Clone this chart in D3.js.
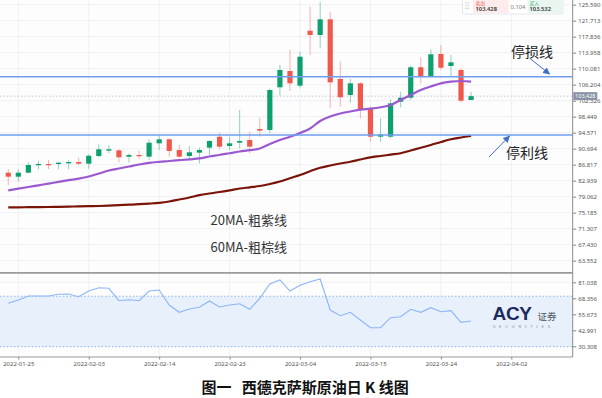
<!DOCTYPE html>
<html><head><meta charset="utf-8">
<script src="https://cdn.jsdelivr.net/npm/d3@7"></script>
<style>
body{margin:0;background:#fff;}
svg{display:block;font-family:"Noto Sans","Noto Sans CJK SC",sans-serif;}
</style>
</head><body>
<svg id="c" width="602" height="398"></svg>
<script>
// ---------------- DATA ----------------
const dates = ["2022-01-24","2022-01-25","2022-01-26","2022-01-27","2022-01-28","2022-01-31",
 "2022-02-01","2022-02-02","2022-02-03","2022-02-04","2022-02-07","2022-02-08","2022-02-09","2022-02-10","2022-02-11",
 "2022-02-14","2022-02-15","2022-02-16","2022-02-17","2022-02-18","2022-02-21","2022-02-22","2022-02-23","2022-02-24","2022-02-25",
 "2022-02-28","2022-03-01","2022-03-02","2022-03-03","2022-03-04","2022-03-07","2022-03-08","2022-03-09","2022-03-10","2022-03-11",
 "2022-03-14","2022-03-15","2022-03-16","2022-03-17","2022-03-18","2022-03-21","2022-03-22","2022-03-23","2022-03-24","2022-03-25",
 "2022-03-28","2022-03-29"];
const futureSlots = ["2022-03-30","2022-03-31","2022-04-01","2022-04-02"];
const openV  = [84.88,83.91,84.88,86.68,86.98,86.98,87.15,87.47,87.06,88.92,90.21,90.30,88.76,89.17,88.76,92.00,92.97,90.38,88.92,89.73,90.94,93.60,91.35,92.15,92.80,95.47,95.23,105.57,109.52,105.96,119.29,118.25,122.05,107.59,103.70,106.54,100.48,93.60,93.60,102.08,103.05,110.42,108.14,113.64,110.73,109.77,102.50];
const highV  = [85.77,85.70,87.40,87.79,87.95,87.54,87.95,88.51,89.33,91.76,91.52,90.55,89.58,90.21,92.97,93.84,93.21,91.59,91.35,90.94,92.80,94.57,93.60,100.07,94.81,98.20,105.33,110.98,114.61,114.20,125.10,126.30,123.90,111.78,107.59,106.80,100.87,98.06,102.66,104.50,110.81,112.84,114.78,115.82,113.40,110.18,104.50];
const lowV   = [81.89,82.70,84.73,85.70,85.77,85.70,85.70,86.74,85.85,88.61,89.58,87.40,87.30,88.20,87.95,90.38,88.76,88.37,88.37,87.15,89.17,90.55,90.38,90.79,89.58,93.60,94.40,103.54,104.68,105.33,113.40,115.00,100.48,100.87,101.84,98.06,92.39,92.39,93.21,100.72,102.50,106.54,108.00,109.77,108.14,101.84,102.50];
const closeV = [83.91,84.88,86.74,87.00,86.74,87.30,87.47,87.06,88.99,90.55,90.55,88.61,89.17,88.92,92.15,92.97,90.14,88.76,89.82,90.38,92.56,91.18,92.00,92.56,91.18,95.06,104.92,109.77,106.54,112.99,118.25,122.05,106.78,103.15,106.54,100.24,93.60,94.10,101.69,103.05,110.42,108.14,113.57,110.32,111.63,102.32,103.43];
const ma20 = [80.61,81.02,81.41,81.82,82.23,82.65,83.06,83.45,83.96,84.68,85.41,85.90,86.38,86.86,87.28,87.52,87.71,87.91,88.12,88.34,88.80,89.17,89.60,90.01,90.33,90.74,91.83,92.80,93.60,94.50,95.59,97.41,98.50,99.23,99.71,100.15,100.39,100.73,101.28,102.50,103.71,104.92,105.77,106.54,106.93,107.10,106.93];
const ma60 = [76.49,76.49,76.52,76.54,76.56,76.61,76.66,76.71,76.76,76.81,76.90,77.00,77.12,77.24,77.39,77.58,77.90,78.38,78.87,79.43,79.84,80.20,80.61,81.05,81.34,81.65,82.14,82.74,83.54,84.32,85.24,86.09,86.62,87.10,87.54,88.08,88.61,88.92,89.26,89.58,90.26,90.91,91.59,92.32,92.99,93.41,93.77];
const rsi = [64.39,67.01,70.18,70.18,70.18,71.53,71.77,69.62,74.14,76.76,76.28,66.45,67.25,66.45,74.14,74.94,63.05,57.26,59.87,61.22,66.22,61.46,63.05,64.08,59.64,68.36,79.69,82.86,74.14,78.66,81.51,83.65,59.08,54.56,57.26,51.16,45.05,45.05,52.98,53.77,59.64,57.26,60.90,57.73,58.53,49.33,50.36];
const priceTicks = [125.590,121.713,117.836,113.958,110.081,106.204,102.326,98.449,94.571,90.694,86.817,82.939,79.062,75.185,71.307,67.430,63.552];
const rsiTicks = [81.038,68.356,55.673,42.991,30.308];
const xTickLabels = ["2022-01-25","2022-02-03","2022-02-14","2022-02-23","2022-03-04","2022-03-15","2022-03-24","2022-04-02"];
const rsiBand = [30, 70];
const stopLoss = 108.14, takeProfit = 94.0;
const lastPrice = 103.428, bidPrice = 103.428, askPrice = 103.532, spread = "0.104";

// ---------------- SCALES ----------------
const slots = dates.concat(futureSlots);
const svg = d3.select("#c");
const W = 602, H = 398;
const plotRight = 572.7;
const x = d3.scaleLinear().domain([-0.82, 56.1]).range([0, plotRight]);
const y = d3.scaleLinear().domain([125.590, 63.552]).range([4.7, 260.7]);
const yr = d3.scaleLinear().domain([81.038, 30.308]).range([282.3, 346.3]);
const mainTop = 0, mainBottom = 272, rsiTop = 274, rsiBottom = 357;

const defs = svg.append("defs");
defs.append("clipPath").attr("id","clipMain").append("rect").attr("x",0).attr("y",mainTop).attr("width",plotRight).attr("height",mainBottom-mainTop);
defs.append("clipPath").attr("id","clipRsi").append("rect").attr("x",0).attr("y",rsiTop).attr("width",plotRight).attr("height",rsiBottom-rsiTop);
const mk = defs.append("marker").attr("id","arr").attr("viewBox","0 0 10 10").attr("refX",9).attr("refY",5)
  .attr("markerWidth",7).attr("markerHeight",7).attr("orient","auto-start-reverse");
mk.append("path").attr("d","M0,0L10,5L0,10z").attr("fill","#3f6fc6");

svg.append("rect").attr("width",W).attr("height",H).attr("fill","#fff");
svg.append("rect").attr("x",0).attr("y",0).attr("width",plotRight).attr("height",rsiBottom).attr("fill","#fdfdfe");

// gridlines
const tickIdx = xTickLabels.map(l => slots.indexOf(l));
const grid = svg.append("g");
grid.selectAll(".gh").data(priceTicks).join("line").attr("x1",0).attr("x2",plotRight)
  .attr("y1",d=>y(d)).attr("y2",d=>y(d)).attr("stroke","#eef0f3").attr("stroke-width",1);
grid.selectAll(".gr").data(rsiTicks).join("line").attr("x1",0).attr("x2",plotRight)
  .attr("y1",d=>yr(d)).attr("y2",d=>yr(d)).attr("stroke","#eef0f3").attr("stroke-width",1);
grid.selectAll(".gv").data(tickIdx).join("line").attr("x1",d=>x(d)).attr("x2",d=>x(d))
  .attr("y1",0).attr("y2",rsiBottom).attr("stroke","#eef0f3").attr("stroke-width",1);

// ---------------- MAIN PANEL ----------------
const main = svg.append("g").attr("clip-path","url(#clipMain)");
main.append("line").attr("x1",0).attr("x2",plotRight).attr("y1",y(lastPrice)).attr("y2",y(lastPrice))
  .attr("stroke","#c4c8cf").attr("stroke-dasharray","1.5,2");

const candles = dates.map((d,i)=>({i, o:openV[i], h:highV[i], l:lowV[i], c:closeV[i]}));
const up = "#0e9f6e", dn = "#f0584c";
main.selectAll(".wick").data(candles).join("line")
  .attr("x1",d=>x(d.i)).attr("x2",d=>x(d.i)).attr("y1",d=>y(d.h)).attr("y2",d=>y(d.l))
  .attr("stroke",d=>d.c>=d.o?up:dn).attr("stroke-opacity",0.45).attr("stroke-width",1);
main.selectAll(".body").data(candles).join("rect")
  .attr("x",d=>x(d.i)-2.6).attr("width",5.2)
  .attr("y",d=>y(Math.max(d.o,d.c))).attr("height",d=>Math.max(1.2, Math.abs(y(d.o)-y(d.c))))
  .attr("fill",d=>d.c>=d.o?up:dn);

const line = arr => d3.line().x((d,i)=>x(i)).y(d=>y(d)).curve(d3.curveMonotoneX)(arr);
main.append("path").attr("d",line(ma20)).attr("fill","none").attr("stroke","#9b59d0").attr("stroke-width",2.2);
main.append("path").attr("d",line(ma60)).attr("fill","none").attr("stroke","#7a1408").attr("stroke-width",2.2);

[stopLoss, takeProfit].forEach(v=>{
  main.append("line").attr("x1",0).attr("x2",plotRight).attr("y1",y(v)).attr("y2",y(v))
    .attr("stroke","#6e9eef").attr("stroke-width",1.6);
});

// annotations
const ann = svg.append("g").attr("font-family","'Noto Sans CJK SC','Noto Sans',sans-serif").attr("fill","#222");
ann.append("text").attr("x",511).attr("y",56.5).attr("font-size",14).text("停损线");
ann.append("line").attr("x1",530).attr("y1",58.5).attr("x2",549.5).attr("y2",74).attr("stroke","#3f6fc6").attr("stroke-width",1).attr("marker-end","url(#arr)");
ann.append("text").attr("x",506).attr("y",157.5).attr("font-size",14).text("停利线");
ann.append("line").attr("x1",489).attr("y1",157).attr("x2",509.5).attr("y2",136).attr("stroke","#3f6fc6").attr("stroke-width",1).attr("marker-end","url(#arr)");
ann.append("text").attr("x",210.5).attr("y",224.5).attr("font-size",13).attr("fill","#333").text("20MA-粗紫线");
ann.append("text").attr("x",210.5).attr("y",252).attr("font-size",13).attr("fill","#333").text("60MA-粗棕线");

// ---------------- RSI PANEL ----------------
const rp = svg.append("g").attr("clip-path","url(#clipRsi)");
rp.append("rect").attr("x",0).attr("width",plotRight).attr("y",yr(rsiBand[1])).attr("height",yr(rsiBand[0])-yr(rsiBand[1]))
  .attr("fill","#e4eefb").attr("fill-opacity",0.9);
rsiBand.forEach(v=>rp.append("line").attr("x1",0).attr("x2",plotRight).attr("y1",yr(v)).attr("y2",yr(v))
  .attr("stroke","#92b6ec").attr("stroke-dasharray","1.5,2").attr("stroke-width",1));
rp.append("path").attr("d",d3.line().x((d,i)=>x(i)).y(d=>yr(d))(rsi)).attr("fill","none").attr("stroke","#8db6f5").attr("stroke-width",1.1);

// logo
const logo = svg.append("g");
logo.append("text").attr("x",492.5).attr("y",319.5).attr("font-family","'Liberation Sans',Arial,sans-serif").attr("font-weight",900)
  .attr("font-size",19).attr("fill","#1c2a5e").attr("letter-spacing",-0.3).text("ACY");
logo.append("text").attr("x",537.5).attr("y",320).attr("font-family","'Noto Sans CJK SC',sans-serif").attr("font-size",9.5).attr("fill","#4a5060").text("证券");
logo.append("text").attr("x",493).attr("y",327.5).attr("font-size",4.3).attr("fill","#8d95a5").attr("letter-spacing",3.75).text("SECURITIES");

// panel borders
svg.append("line").attr("x1",0).attr("x2",plotRight).attr("y1",272.8).attr("y2",272.8).attr("stroke","#9a9a9a").attr("stroke-width",1.8);
svg.append("line").attr("x1",0).attr("x2",plotRight).attr("y1",357).attr("y2",357).attr("stroke","#9a9a9a").attr("stroke-width",1);

// axes
const axR = svg.append("g").attr("transform",`translate(${plotRight},0)`)
  .call(d3.axisRight(y).tickValues(priceTicks).tickFormat(d3.format(".3f")).tickSize(3.5).tickPadding(2));
const axR2 = svg.append("g").attr("transform",`translate(${plotRight},0)`)
  .call(d3.axisRight(yr).tickValues(rsiTicks).tickFormat(d3.format(".3f")).tickSize(3.5).tickPadding(2));
[axR, axR2].forEach(a=>{
  a.select(".domain").remove();
  a.selectAll("line").attr("stroke","#888");
  a.selectAll("text").attr("font-size",6).attr("fill","#555").attr("font-family","'Noto Sans',sans-serif");
});
svg.append("line").attr("x1",plotRight).attr("x2",plotRight).attr("y1",0).attr("y2",357).attr("stroke","#8a8a8a").attr("stroke-width",1);

const axB = svg.append("g").attr("transform",`translate(0,357)`)
  .call(d3.axisBottom(x).tickValues(tickIdx).tickFormat(d=>slots[d]).tickSize(2.5).tickPadding(2.5));
axB.select(".domain").remove();
axB.selectAll("line").attr("stroke","#888");
axB.selectAll("text").attr("font-size",6).attr("fill","#555").attr("font-family","'Noto Sans',sans-serif");

// last price label
const lp = svg.append("g");
lp.append("rect").attr("x",573.3).attr("y",y(lastPrice)-4).attr("width",24).attr("height",8).attr("fill","#8793a6");
lp.append("text").attr("x",585.3).attr("y",y(lastPrice)+2).attr("text-anchor","middle").attr("font-size",5.5).attr("fill","#fff").text(d3.format(".3f")(lastPrice));

// top quote box
const q = svg.append("g");
q.append("rect").attr("x",462.5).attr("y",-3).attr("width",100.5).attr("height",17).attr("rx",2).attr("fill","#fff").attr("stroke","#e4e6ea");
[0,1,2].forEach(r=>[0,1].forEach(c=>q.append("circle").attr("cx",466+c*2.2).attr("cy",3+r*2.6).attr("r",0.7).attr("fill","#b8bcc4")));
q.append("rect").attr("x",473).attr("y",-2).attr("width",35.5).attr("height",15).attr("fill","#fdeceb");
q.append("rect").attr("x",527.5).attr("y",-2).attr("width",35).attr("height",15).attr("fill","#e8f6ef");
q.append("text").attr("x",475.5).attr("y",5).attr("font-size",4.8).attr("fill","#e5534b").attr("font-family","'Noto Sans CJK SC',sans-serif").text("卖出");
q.append("text").attr("x",475.5).attr("y",11.3).attr("font-size",5.8).attr("fill","#333").attr("font-weight",600).text(d3.format(".3f")(bidPrice));
q.append("text").attr("x",518).attr("y",9).attr("text-anchor","middle").attr("font-size",5.8).attr("fill","#777").text(spread);
q.append("text").attr("x",529.5).attr("y",5).attr("font-size",4.8).attr("fill","#1a9c63").attr("font-family","'Noto Sans CJK SC',sans-serif").text("买入");
q.append("text").attr("x",529.5).attr("y",11.3).attr("font-size",5.8).attr("fill","#333").attr("font-weight",600).text(d3.format(".3f")(askPrice));

// title
svg.append("text").attr("x",201.5).attr("y",393).attr("font-family","'Noto Sans CJK SC',sans-serif").attr("font-weight",700)
  .attr("font-size",15).attr("fill","#111").attr("xml:space","preserve").style("white-space","pre").text("图一   西德克萨斯原油日 K 线图");
</script>
</body></html>
